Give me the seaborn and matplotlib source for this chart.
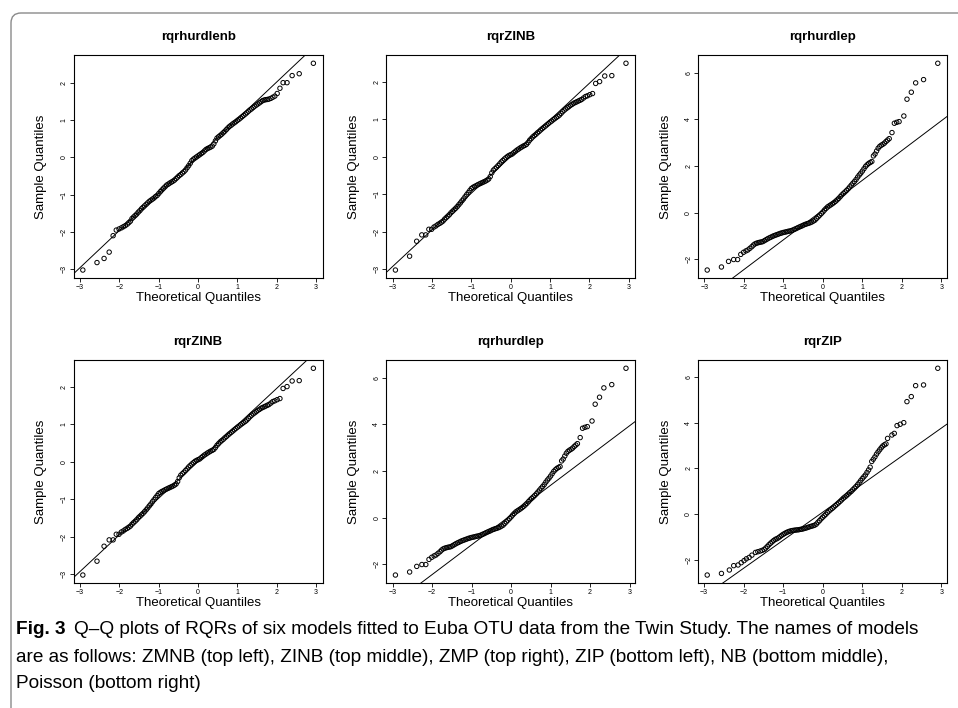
import matplotlib
matplotlib.use("Agg")
import matplotlib.pyplot as plt
import seaborn as sns
from matplotlib.patches import FancyBboxPatch
from matplotlib.transforms import IdentityTransform
from matplotlib.ticker import MultipleLocator

sns.set_style("ticks")
plt.rcParams["font.family"] = ["Liberation Sans", "DejaVu Sans"]
plt.rcParams["text.color"] = "black"
plt.rcParams["axes.labelcolor"] = "black"
plt.rcParams["xtick.color"] = "black"
plt.rcParams["ytick.color"] = "black"

# rqrhurdlenb : theoretical / sample quantiles
hnb_x = [-2.93, -2.57, -2.39, -2.26, -2.16, -2.08, -2.01, -1.95, -1.90, -1.85, -1.80, -1.76, -1.72, -1.68, -1.64, -1.60, -1.56, -1.52, -1.48, -1.44,
         -1.40, -1.36, -1.32, -1.28, -1.24, -1.20, -1.16, -1.12, -1.08, -1.04, -1.00, -0.96, -0.92, -0.88, -0.84, -0.80, -0.76, -0.72, -0.68, -0.64,
         -0.60, -0.56, -0.52, -0.48, -0.44, -0.40, -0.36, -0.32, -0.28, -0.24, -0.20, -0.16, -0.12, -0.08, -0.04, 0.00, 0.04, 0.08, 0.12, 0.16,
         0.20, 0.24, 0.28, 0.32, 0.36, 0.40, 0.44, 0.48, 0.52, 0.56, 0.60, 0.64, 0.68, 0.72, 0.76, 0.80, 0.84, 0.88, 0.92, 0.96,
         1.00, 1.04, 1.08, 1.12, 1.16, 1.20, 1.24, 1.28, 1.32, 1.36, 1.40, 1.44, 1.48,
         1.52, 1.56, 1.60, 1.64, 1.68, 1.72, 1.76, 1.80, 1.85, 1.90, 1.95, 2.01, 2.08, 2.16, 2.26, 2.39, 2.57, 2.93]
hnb_y = [-3.02, -2.82, -2.71, -2.54, -2.10, -1.95, -1.92, -1.89, -1.86, -1.83, -1.79, -1.75, -1.71, -1.64, -1.60, -1.56, -1.52, -1.47, -1.43, -1.38,
         -1.34, -1.30, -1.26, -1.22, -1.18, -1.15, -1.12, -1.09, -1.05, -1.02, -0.97, -0.92, -0.875, -0.83, -0.79, -0.745, -0.72, -0.69, -0.665, -0.64,
         -0.61, -0.57, -0.53, -0.49, -0.46, -0.42, -0.385, -0.34, -0.28, -0.225, -0.16, -0.09, -0.05, -0.02, 0.01, 0.04, 0.07, 0.10, 0.13, 0.17,
         0.21, 0.235, 0.255, 0.275, 0.30, 0.36, 0.44, 0.515, 0.55, 0.585, 0.62, 0.66, 0.70, 0.745, 0.79, 0.83, 0.86, 0.895, 0.925, 0.955,
         0.99, 1.02, 1.055, 1.09, 1.125, 1.16, 1.195, 1.235, 1.27, 1.30, 1.335, 1.37, 1.40,
         1.43, 1.46, 1.49, 1.52, 1.535, 1.545, 1.55, 1.56, 1.58, 1.61, 1.64, 1.71, 1.85, 2.00, 2.00, 2.19, 2.24, 2.52]

# rqrZINB
zinb_x = [-2.93, -2.57, -2.39, -2.26, -2.16, -2.08, -2.01, -1.95, -1.90, -1.85, -1.80, -1.76, -1.72, -1.68, -1.64, -1.60, -1.56, -1.52,
          -1.48, -1.44, -1.40, -1.36, -1.32, -1.28, -1.24, -1.20, -1.16, -1.12, -1.08, -1.04, -1.00, -0.96, -0.92, -0.88, -0.84, -0.80, -0.76, -0.72,
          -0.68, -0.64, -0.60, -0.56, -0.52, -0.48, -0.44, -0.40, -0.36, -0.32, -0.28, -0.24, -0.20, -0.16, -0.12, -0.08, -0.04, 0.00, 0.04, 0.08,
          0.12, 0.16, 0.20, 0.24, 0.28, 0.32, 0.36, 0.40, 0.44, 0.48, 0.52, 0.56, 0.60, 0.64, 0.68, 0.72, 0.76, 0.80, 0.84, 0.88,
          0.92, 0.96, 1.00, 1.04, 1.08, 1.12, 1.16, 1.20, 1.24, 1.28, 1.32, 1.36, 1.40, 1.44, 1.48, 1.52, 1.56,
          1.60, 1.64, 1.68, 1.72, 1.76, 1.80, 1.85, 1.90, 1.95, 2.01, 2.08, 2.16, 2.26, 2.39, 2.57, 2.93]
zinb_y = [-3.03, -2.66, -2.26, -2.09, -2.09, -1.94, -1.94, -1.88, -1.85, -1.81, -1.78, -1.75, -1.72, -1.67, -1.63, -1.59, -1.55, -1.50,
          -1.46, -1.42, -1.38, -1.335, -1.285, -1.235, -1.18, -1.13, -1.07, -1.015, -0.96, -0.905, -0.85, -0.82, -0.795, -0.775, -0.75, -0.73, -0.71, -0.69,
          -0.67, -0.65, -0.625, -0.595, -0.53, -0.43, -0.36, -0.32, -0.28, -0.235, -0.19, -0.14, -0.10, -0.06, -0.025, 0.01, 0.035, 0.055, 0.075, 0.11,
          0.145, 0.178, 0.205, 0.235, 0.26, 0.285, 0.305, 0.33, 0.38, 0.44, 0.485, 0.53, 0.565, 0.60, 0.64, 0.675, 0.715, 0.75, 0.785, 0.82,
          0.855, 0.89, 0.925, 0.955, 0.99, 1.02, 1.05, 1.08, 1.115, 1.16, 1.205, 1.245, 1.28, 1.31, 1.34, 1.375, 1.40,
          1.43, 1.45, 1.47, 1.49, 1.51, 1.53, 1.57, 1.61, 1.63, 1.66, 1.69, 1.96, 2.01, 2.16, 2.17, 2.50]

# rqrhurdlep
hp_x = [-2.93, -2.57, -2.39, -2.26, -2.16, -2.08, -2.01, -1.95, -1.90, -1.85, -1.80, -1.76, -1.72, -1.68, -1.64, -1.60, -1.56, -1.52, -1.48,
        -1.44, -1.40, -1.36, -1.32, -1.28, -1.24, -1.20, -1.16, -1.12, -1.08, -1.04, -1.00, -0.96, -0.92, -0.88, -0.84, -0.80, -0.76, -0.72, -0.68,
        -0.64, -0.60, -0.56, -0.52, -0.48, -0.44, -0.40, -0.36, -0.32, -0.28, -0.24, -0.20, -0.16, -0.12, -0.08, -0.04, 0.00, 0.04, 0.08, 0.12,
        0.16, 0.20, 0.24, 0.28, 0.32, 0.36, 0.40, 0.44, 0.48, 0.52, 0.56, 0.60, 0.64, 0.68, 0.72, 0.76, 0.80, 0.84, 0.88, 0.92,
        0.96, 1.00, 1.04, 1.08, 1.12, 1.16, 1.20,
        1.24, 1.28, 1.32, 1.36, 1.40, 1.44, 1.48, 1.52, 1.56, 1.60, 1.64, 1.68, 1.75, 1.81, 1.87, 1.93, 2.05, 2.13, 2.24, 2.35, 2.55, 2.91]
hp_y = [-2.46, -2.33, -2.09, -2.01, -2.01, -1.79, -1.70, -1.64, -1.60, -1.53, -1.46, -1.39, -1.34, -1.31, -1.29, -1.27, -1.26, -1.24, -1.20,
        -1.16, -1.12, -1.085, -1.055, -1.02, -0.99, -0.965, -0.94, -0.915, -0.89, -0.87, -0.85, -0.835, -0.82, -0.80, -0.79, -0.77, -0.745, -0.715, -0.685,
        -0.65, -0.62, -0.59, -0.56, -0.525, -0.50, -0.475, -0.455, -0.43, -0.40, -0.36, -0.32, -0.25, -0.18, -0.11, -0.04, 0.03, 0.11, 0.18, 0.245,
        0.29, 0.335, 0.38, 0.43, 0.485, 0.545, 0.61, 0.685, 0.76, 0.825, 0.885, 0.95, 1.02, 1.10, 1.18, 1.26, 1.335, 1.42, 1.52, 1.61,
        1.69, 1.78, 1.88, 1.98, 2.05, 2.11, 2.15,
        2.19, 2.43, 2.51, 2.64, 2.76, 2.84, 2.89, 2.93, 2.98, 3.05, 3.11, 3.17, 3.43, 3.83, 3.87, 3.90, 4.14, 4.86, 5.16, 5.56, 5.70, 6.40]

# rqrZIP
zip_x = [-2.92, -2.56, -2.36, -2.25, -2.14, -2.06, -1.99, -1.93, -1.86, -1.79, -1.70, -1.64, -1.58, -1.53, -1.48,
         -1.44, -1.40, -1.36, -1.32, -1.28, -1.24, -1.20, -1.16, -1.12, -1.08, -1.04, -1.00, -0.96, -0.92, -0.88, -0.84, -0.80, -0.76, -0.72, -0.68,
         -0.64, -0.60, -0.56, -0.52, -0.48, -0.44, -0.40, -0.36, -0.32, -0.28, -0.24, -0.20, -0.16, -0.12, -0.08, -0.04, 0.00, 0.04, 0.08, 0.12,
         0.16, 0.20, 0.24, 0.28, 0.32, 0.36, 0.40, 0.44, 0.48, 0.52, 0.56, 0.60, 0.64, 0.68, 0.72, 0.76, 0.80, 0.84, 0.88, 0.92,
         0.96, 1.00, 1.04, 1.08, 1.12, 1.16, 1.20,
         1.24, 1.28, 1.32, 1.36, 1.40, 1.44, 1.48, 1.52, 1.56, 1.60, 1.64, 1.75, 1.81, 1.88, 1.96, 2.05, 2.13, 2.24, 2.35, 2.55, 2.91]
zip_y = [-2.67, -2.60, -2.45, -2.26, -2.23, -2.13, -2.04, -1.96, -1.90, -1.80, -1.68, -1.65, -1.62, -1.59, -1.55,
         -1.49, -1.42, -1.345, -1.28, -1.22, -1.16, -1.11, -1.08, -1.04, -0.99, -0.935, -0.89, -0.85, -0.81, -0.78, -0.755, -0.735, -0.72, -0.71, -0.70,
         -0.695, -0.685, -0.67, -0.66, -0.64, -0.62, -0.60, -0.575, -0.55, -0.53, -0.51, -0.485, -0.44, -0.36, -0.29, -0.21, -0.14, -0.075, -0.01, 0.065,
         0.13, 0.19, 0.245, 0.305, 0.37, 0.43, 0.49, 0.555, 0.62, 0.69, 0.745, 0.80, 0.865, 0.93, 0.99, 1.06, 1.13, 1.20, 1.28, 1.37,
         1.46, 1.55, 1.63, 1.71, 1.82, 1.93, 2.05,
         2.30, 2.40, 2.50, 2.62, 2.72, 2.81, 2.90, 2.98, 3.03, 3.07, 3.31, 3.46, 3.53, 3.87, 3.93, 4.00, 4.92, 5.14, 5.62, 5.65, 6.38]

# qqline (intercept, slope) for each model
hnb_line = (0.03, 0.995)
zinb_line = (0.005, 0.98)
hp_line = (0.11, 1.275)
zip_line = (0.08, 1.227)

titles = ["rqrhurdlenb", "rqrZINB", "rqrhurdlep", "rqrZINB", "rqrhurdlep", "rqrZIP"]
models = [(hnb_x, hnb_y, hnb_line, 1), (zinb_x, zinb_y, zinb_line, 1), (hp_x, hp_y, hp_line, 2),
          (zinb_x, zinb_y, zinb_line, 1), (hp_x, hp_y, hp_line, 2), (zip_x, zip_y, zip_line, 2)]

caption_bold = "Fig. 3"
caption_lines = ["Q\u2013Q plots of RQRs of six models fitted to Euba OTU data from the Twin Study. The names of models",
                 "are as follows: ZMNB (top left), ZINB (top middle), ZMP (top right), ZIP (bottom left), NB (bottom middle),",
                 "Poisson (bottom right)"]

W, H = 958, 708
fig = plt.figure(figsize=(W / 100, H / 100), dpi=100)
fig.patch.set_facecolor("white")

col_left = [73.6, 386.2, 698.0]
row_top = [55.0, 360.0]
aw, ah = 249.0, 223.3

for i, (title, (xs, ys, (a, b), step)) in enumerate(zip(titles, models)):
    r, c = divmod(i, 3)
    ax = fig.add_axes([col_left[c] / W, (H - row_top[r] - ah) / H, aw / W, ah / H])
    sns.scatterplot(x=xs, y=ys, ax=ax, marker="o", s=10, facecolor="none",
                    edgecolor="black", linewidth=0.7, legend=False)
    ax.axline((0, a), slope=b, color="black", lw=0.7)
    ax.margins(x=0.04, y=0.04)
    ax.xaxis.set_major_locator(MultipleLocator(1))
    ax.yaxis.set_major_locator(MultipleLocator(step))
    for s in ax.spines.values():
        s.set_visible(True)
        s.set_color("black")
        s.set_linewidth(0.8)
    ax.tick_params(length=3, width=0.6, pad=1.2, labelsize=5)
    ax.tick_params(axis="y", labelrotation=90)
    for lab in ax.get_yticklabels():
        lab.set_va("center")
    ax.set_title(title, fontsize=9.5, fontweight="bold", pad=11)
    ax.set_xlabel("Theoretical Quantiles", fontsize=9.5)
    ax.set_ylabel("Sample Quantiles", fontsize=9.5)
    ax.xaxis.set_label_coords(0.5, -0.062)
    ax.yaxis.set_label_coords(-0.105, 0.5)

# caption
cap_size = 13.7
t = fig.text(16 / W, 1 - 630 / H, caption_bold, fontsize=cap_size, fontweight="bold", va="center", ha="left")
fig.canvas.draw()
x1 = t.get_window_extent().x1
fig.text((x1 + 9) / W, 1 - 630 / H, caption_lines[0], fontsize=cap_size, va="center", ha="left")
fig.text(16 / W, 1 - 657 / H, caption_lines[1], fontsize=cap_size, va="center", ha="left")
fig.text(16 / W, 1 - 684 / H, caption_lines[2], fontsize=cap_size, va="center", ha="left")

# rounded frame (top and left edges visible)
frame = FancyBboxPatch((11, -40), 1000, 695 + 40, boxstyle="round,pad=0,rounding_size=10",
                       transform=IdentityTransform(), fill=False, ec="#8a8a8a", lw=1.0)
fig.add_artist(frame)

fig.savefig("out.png", dpi=100)
